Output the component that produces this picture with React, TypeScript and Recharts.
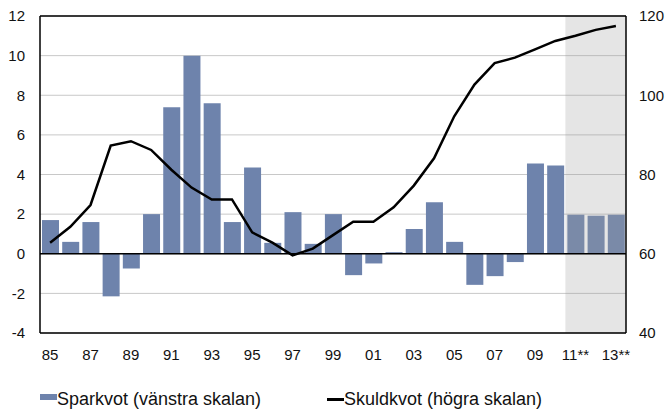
import { ComposedChart, Bar, Cell, Line, XAxis, YAxis, CartesianGrid, ReferenceArea, ReferenceLine } from "recharts";

const years = [
  "85", "86", "87", "88", "89", "90", "91", "92", "93", "94",
  "95", "96", "97", "98", "99", "00", "01", "02", "03", "04",
  "05", "06", "07", "08", "09", "10", "11**", "12**", "13**",
];

// Sparkvot, procent (vänstra skalan)
const sparkvot = [
  1.7, 0.6, 1.6, -2.15, -0.74, 2.0, 7.4, 10.0, 7.6, 1.6,
  4.35, 0.55, 2.1, 0.5, 2.0, -1.08, -0.49, 0.08, 1.25, 2.6,
  0.6, -1.57, -1.13, -0.42, 4.55, 4.45, 1.97, 1.92, 1.97,
];

// Skuldkvot, procent (högra skalan)
const skuldkvot = [
  62.8, 66.8, 72.3, 87.3, 88.4, 86.2, 81.2, 76.7, 73.7, 73.7,
  65.4, 62.8, 59.6, 61.3, 64.7, 68.1, 68.1, 71.7, 77.2, 84.1,
  94.7, 102.7, 108.1, 109.5, 111.6, 113.7, 115.0, 116.5, 117.5,
];

const leftTicks = [-4, -2, 0, 2, 4, 6, 8, 10, 12];
const rightTicks = [40, 60, 80, 100, 120];

const data = years.map((year, i) => ({ year, spar: sparkvot[i], skuld: skuldkvot[i] }));

const barColor = "#6e83ac";
const forecastColor = "#7a8aa8";
const tickStyle = { fontSize: 15, fill: "#111" };

export default function App() {
  return (
    <div style={{ position: "absolute", left: 0, top: 0, width: 667, height: 412, background: "#fff", fontFamily: "'Liberation Sans', Arial, sans-serif" }}>
      <ComposedChart width={667} height={412} data={data} margin={{ top: 16, right: 0, bottom: 49, left: 0 }} barSize={17}>
        <CartesianGrid horizontal vertical={false} stroke="#c8c8c8" yAxisId="left" />
        <XAxis
          dataKey="year"
          interval={1}
          tickLine={false}
          tickSize={0}
          tickMargin={16}
          height={30}
          axisLine={{ stroke: "#000", strokeWidth: 1.5 }}
          tick={tickStyle}
        />
        <YAxis
          yAxisId="left"
          domain={[-4, 12]}
          ticks={leftTicks}
          width={40}
          tickLine={false}
          tickSize={0}
          tickMargin={15}
          axisLine={{ stroke: "#000", strokeWidth: 1.5 }}
          tick={tickStyle}
        />
        <YAxis
          yAxisId="right"
          orientation="right"
          domain={[40, 120]}
          ticks={rightTicks}
          width={41}
          tickLine={false}
          tickSize={0}
          tickMargin={13}
          axisLine={{ stroke: "#000", strokeWidth: 1.5 }}
          tick={{ ...tickStyle, textAnchor: "start" }}
        />
        <ReferenceArea yAxisId="left" x1="11**" x2="13**" fill="#999" fillOpacity={0.25} stroke="none" ifOverflow="visible" />
        <Bar yAxisId="left" dataKey="spar" fill={barColor} isAnimationActive={false}>
          {years.map((y) => (
            <Cell key={y} fill={y.endsWith("**") ? forecastColor : barColor} />
          ))}
        </Bar>
        <Line
          yAxisId="right"
          type="linear"
          dataKey="skuld"
          stroke="#000"
          strokeWidth={2.5}
          dot={false}
          isAnimationActive={false}
        />
        <ReferenceLine yAxisId="left" y={0} stroke="#000" strokeWidth={1.5} />
        <ReferenceLine yAxisId="left" y={12} stroke="#000" strokeWidth={1.5} />
      </ComposedChart>
      <div style={{ position: "absolute", left: 40, top: 394, width: 17, height: 6, background: barColor }} />
      <div style={{ position: "absolute", left: 57, top: 389, fontSize: 18, lineHeight: "20px", color: "#111", whiteSpace: "nowrap" }}>
        Sparkvot (vänstra skalan)
      </div>
      <div style={{ position: "absolute", left: 327, top: 398, width: 17, height: 3, background: "#000" }} />
      <div style={{ position: "absolute", left: 344, top: 389, fontSize: 18, lineHeight: "20px", color: "#111", whiteSpace: "nowrap" }}>
        Skuldkvot (högra skalan)
      </div>
    </div>
  );
}
